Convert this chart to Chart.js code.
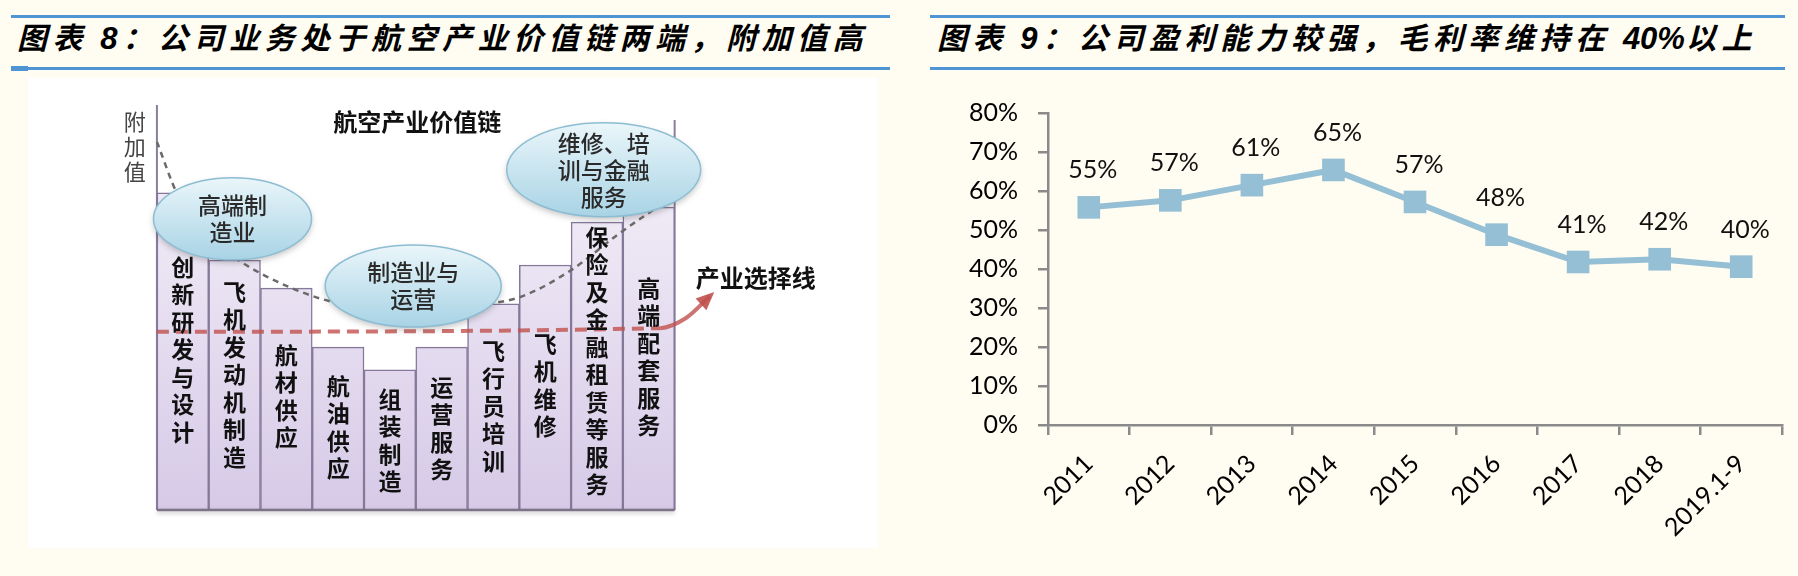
<!DOCTYPE html>
<html lang="zh-CN">
<head>
<meta charset="utf-8">
<title>航空产业价值链 / 毛利率</title>
<script src="https://cdn.jsdelivr.net/npm/chart.js@4.4.1/dist/chart.umd.min.js"></script>
<style>
  html, body { margin: 0; padding: 0; }
  body {
    width: 1798px; height: 576px; position: relative; overflow: hidden;
    background: #fffcf1; font-family: "Noto Sans CJK SC", sans-serif;
  }
  .rule { position: absolute; height: 3px; background: #4f95d4; }
  .title {
    position: absolute; top: 14px; line-height: 44px; white-space: nowrap;
    font-size: 30px; font-style: italic; font-weight: 700; letter-spacing: 5.5px; color: #000;
  }
  .title b { font-family: "Liberation Sans", sans-serif; font-weight: 900; font-size: 31px; letter-spacing: 0; margin-right: 5px; }
  .title b.tight { margin-right: 1px; }
  #leftPanel { position: absolute; left: 28px; top: 78px; width: 850px; height: 470px; background: #fff; }
  #chainChart { position: absolute; left: 28px; top: 78px; }
  #marginChart { position: absolute; left: 900px; top: 78px; }
</style>
</head>
<body>
<div class="rule" style="left:11px; top:15px; width:879px"></div>
<div class="rule" style="left:11px; top:67px; width:879px"></div>
<div class="rule" style="left:11px; top:66px; width:17px; height:5px"></div>
<div class="title" style="left:17px">图表 <b>8</b>：公司业务处于航空产业价值链两端，附加值高</div>

<div class="rule" style="left:930px; top:15px; width:855px"></div>
<div class="rule" style="left:930px; top:67px; width:855px"></div>
<div class="title" style="left:937px">图表 <b>9</b>：公司盈利能力较强，毛利率维持在 <b class="tight">40%</b>以上</div>

<div id="leftPanel"></div>
<canvas id="chainChart" width="850" height="470"></canvas>
<canvas id="marginChart" width="898" height="498"></canvas>

<script>
// 图表8: 航空产业价值链 (附加值, 0-100)
const chainStages = ['创新研发与设计', '飞机发动机制造', '航材供应', '航油供应', '组装制造',
                     '运营服务', '飞行员培训', '飞机维修', '保险及金融租赁等服务', '高端配套服务'];
const chainValue = [78.3, 61.7, 54.8, 40.2, 34.6, 40.2, 50.9, 60.5, 71.1, 74.8];
const chainLabelTop = [60.0, 53.8, 38.3, 30.6, 27.4, 30.4, 39.3, 41.0, 67.4, 54.8]; // first char, in value units
const smileX = [0, 0.40, 0.94, 1.57, 2.60, 3.64, 4.92, 6.19, 7.02, 8.01, 8.89, 9.72];
const smileY = [90.9, 77.8, 67.9, 61.7, 54.8, 50.6, 48.9, 50.6, 52.6, 59.3, 67.9, 75.3];
const selectX = [0, 9.72, 10.22, 10.68];
const selectY = [44.0, 44.9, 47.4, 52.8];
const bubbleText = [['高端制', '造业'], ['制造业与', '运营'], ['维修、培', '训与金融', '服务']];
const bubbleX = [1.46, 4.95, 8.63];
const bubbleY = [71.9, 55.3, 84.0];
const axisTop = 100;   // 附加值 axis
const lastEdgeTop = 96.3;

// 图表9: 毛利率
const years = ['2011', '2012', '2013', '2014', '2015', '2016', '2017', '2018', '2019.1-9'];
const grossMargin = [55.8, 57.6, 61.5, 65.4, 57.2, 48.8, 41.8, 42.5, 40.6];

const CJK = '"Noto Sans CJK SC", sans-serif';

function barGradient(context) {
    const {ctx, chartArea} = context.chart;
    if (!chartArea) return '#e4dbef';
    const g = ctx.createLinearGradient(0, chartArea.top, 0, chartArea.bottom);
    g.addColorStop(0, '#f8f5fb');
    g.addColorStop(1, '#d6cae7');
    return g;
}

const chainDeco = {
    id: 'chainDeco',
    beforeDatasetsDraw(chart) {
        const {ctx, scales: {x, y}} = chart;
        ctx.save();
        ctx.strokeStyle = '#8a7e9c';
        ctx.lineWidth = 2;
        ctx.beginPath();
        ctx.moveTo(x.getPixelForValue(0), y.getPixelForValue(0));
        ctx.lineTo(x.getPixelForValue(0), y.getPixelForValue(axisTop));
        ctx.moveTo(x.getPixelForValue(10), y.getPixelForValue(0));
        ctx.lineTo(x.getPixelForValue(10), y.getPixelForValue(lastEdgeTop));
        ctx.stroke();
        ctx.restore();
    },
    afterDatasetsDraw(chart) {
        const {ctx, scales: {x, y}} = chart;
        ctx.save();

        // baseline with soft shadow
        ctx.strokeStyle = '#7c7388';
        ctx.lineWidth = 2.5;
        ctx.shadowColor = 'rgba(0,0,0,0.25)';
        ctx.shadowBlur = 4;
        ctx.shadowOffsetY = 2;
        ctx.beginPath();
        ctx.moveTo(x.getPixelForValue(0), y.getPixelForValue(0));
        ctx.lineTo(x.getPixelForValue(10), y.getPixelForValue(0));
        ctx.stroke();
        ctx.shadowColor = 'transparent';

        // vertical stage names
        ctx.fillStyle = '#111';
        ctx.font = 'bold 23px ' + CJK;
        ctx.textAlign = 'center';
        ctx.textBaseline = 'middle';
        chainStages.forEach((name, i) => {
            const cx = x.getPixelForValue(i + 0.5);
            const top = y.getPixelForValue(chainLabelTop[i]);
            [...name].forEach((ch, k) => ctx.fillText(ch, cx, top + k * 27.5));
        });

        // arrow head of the selection line
        const meta = chart.getDatasetMeta(0);
        const p1 = meta.data[meta.data.length - 1];
        const p0 = meta.data[meta.data.length - 2];
        const ang = Math.atan2(p1.y - p0.y, p1.x - p0.x);
        ctx.fillStyle = 'rgba(192,80,77,0.9)';
        ctx.beginPath();
        ctx.moveTo(p1.x + 6 * Math.cos(ang), p1.y + 6 * Math.sin(ang));
        ctx.lineTo(p1.x - 12 * Math.cos(ang) - 8 * Math.sin(ang), p1.y - 12 * Math.sin(ang) + 8 * Math.cos(ang));
        ctx.lineTo(p1.x - 12 * Math.cos(ang) + 8 * Math.sin(ang), p1.y - 12 * Math.sin(ang) - 8 * Math.cos(ang));
        ctx.closePath();
        ctx.fill();

        // bubbles
        const radii = [[79, 41], [88, 41], [97, 47]];
        bubbleText.forEach((lines, i) => {
            const cx = x.getPixelForValue(bubbleX[i]);
            const cy = y.getPixelForValue(bubbleY[i]);
            const [rx, ry] = radii[i];
            const g = ctx.createLinearGradient(0, cy - ry, 0, cy + ry);
            g.addColorStop(0, '#eaf6fa');
            g.addColorStop(1, '#a8d3e5');
            ctx.save();
            ctx.shadowColor = 'rgba(60,60,60,0.3)';
            ctx.shadowBlur = 6;
            ctx.shadowOffsetY = 3;
            ctx.beginPath();
            ctx.ellipse(cx, cy, rx, ry, 0, 0, Math.PI * 2);
            ctx.fillStyle = g;
            ctx.fill();
            ctx.restore();
            ctx.strokeStyle = '#8dbdd2';
            ctx.lineWidth = 1.5;
            ctx.stroke();
            ctx.fillStyle = '#2a2a2a';
            ctx.font = '500 23px ' + CJK;
            lines.forEach((t, k) => ctx.fillText(t, cx, cy + (k - (lines.length - 1) / 2) * 27));
        });

        // titles and notes
        ctx.fillStyle = '#111';
        ctx.font = 'bold 24px ' + CJK;
        ctx.fillText('航空产业价值链', x.getPixelForValue(5.03), y.getPixelForValue(95.8));
        ctx.textAlign = 'left';
        ctx.fillText('产业选择线', x.getPixelForValue(10.41), y.getPixelForValue(57.3));
        ctx.textAlign = 'center';
        ctx.fillStyle = '#444';
        ctx.font = '22px ' + CJK;
        [...'附加值'].forEach((ch, k) => ctx.fillText(ch, x.getPixelForValue(-0.43), y.getPixelForValue(95.8) + k * 25));
        ctx.restore();
    }
};

new Chart(document.getElementById('chainChart').getContext('2d'), {
    type: 'bar',
    data: {
        datasets: [
            {
                type: 'line',
                data: selectX.map((v, i) => ({x: v, y: selectY[i]})),
                borderColor: 'rgba(192,80,77,0.8)',
                borderWidth: 4,
                borderDash: [12, 7],
                segment: { borderDash: c => c.p0DataIndex >= 1 ? [] : undefined },
                cubicInterpolationMode: 'monotone',
                pointRadius: 0,
                order: 1
            },
            {
                type: 'line',
                data: smileX.map((v, i) => ({x: v, y: smileY[i]})),
                borderColor: '#6a6a6a',
                borderWidth: 2.5,
                borderDash: [6, 5],
                cubicInterpolationMode: 'monotone',
                pointRadius: 0,
                order: 2
            },
            {
                data: chainValue.map((v, i) => ({x: i + 0.5, y: v})),
                backgroundColor: barGradient,
                borderColor: '#85789a',
                borderWidth: 1.5,
                barPercentage: 1,
                categoryPercentage: 1,
                order: 3
            }
        ]
    },
    options: {
        responsive: false,
        animation: false,
        events: [],
        layout: { padding: { left: 75, right: 20, top: 27, bottom: 38 } },
        plugins: { legend: { display: false }, tooltip: { enabled: false } },
        scales: {
            x: { type: 'linear', min: 0, max: 12.5, display: false },
            y: { min: 0, max: 100, display: false }
        }
    },
    plugins: [chainDeco]
});

// labels above the margin points
const marginLabels = {
    id: 'marginLabels',
    afterDatasetsDraw(chart) {
        const {ctx} = chart;
        ctx.save();
        ctx.font = '25px Lato, sans-serif';
        ctx.fillStyle = '#111';
        ctx.textAlign = 'center';
        ctx.textBaseline = 'middle';
        chart.getDatasetMeta(0).data.forEach((pt, i) => {
            ctx.fillText(Math.floor(grossMargin[i]) + '%', pt.x + 4, pt.y - 37);
        });
        ctx.restore();
    }
};

new Chart(document.getElementById('marginChart').getContext('2d'), {
    type: 'line',
    data: {
        labels: years,
        datasets: [{
            data: grossMargin,
            borderColor: '#94bfd5',
            backgroundColor: '#94bfd5',
            borderWidth: 6,
            pointStyle: 'rect',
            pointRadius: 16,
            pointBackgroundColor: '#94bfd5',
            pointBorderWidth: 0,
            tension: 0
        }]
    },
    options: {
        responsive: false,
        animation: false,
        events: [],
        layout: { padding: { top: 28, right: 13, bottom: 11, left: 0 } },
        plugins: { legend: { display: false }, tooltip: { enabled: false } },
        scales: {
            x: {
                offset: true,
                grid: { offset: true, drawOnChartArea: false, tickLength: 10, color: '#8a8a8a', lineWidth: 2.5 },
                border: { color: '#8a8a8a', width: 2.5 },
                ticks: { autoSkip: false, minRotation: 45, maxRotation: 45, padding: 14, color: '#000',
                         font: { family: 'Lato', size: 25 } },
                afterFit: s => { s.height = 140; }
            },
            y: {
                min: 0,
                max: 80,
                grid: { drawOnChartArea: false, tickLength: 10, color: '#8a8a8a', lineWidth: 2.5 },
                border: { color: '#8a8a8a', width: 2.5 },
                ticks: { stepSize: 10, padding: 20, color: '#000', font: { family: 'Lato', size: 25 },
                         callback: v => v + '%' },
                afterFit: s => { s.width = 148; }
            }
        }
    },
    plugins: [marginLabels]
});
</script>
</body>
</html>
